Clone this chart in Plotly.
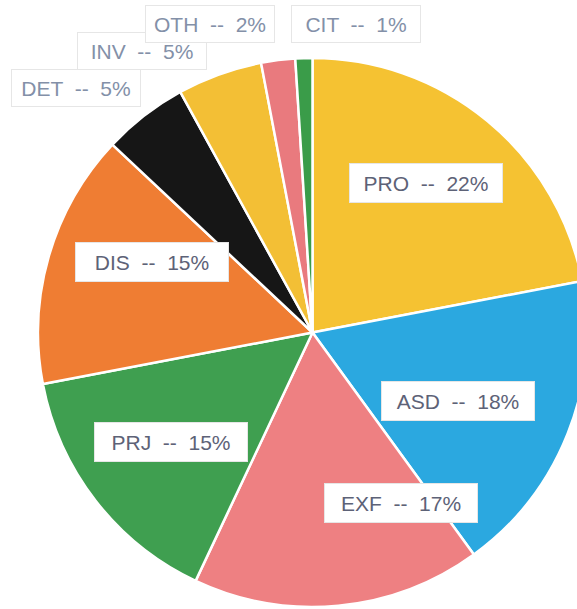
import plotly.graph_objects as go

# slice data, clockwise from 12 o'clock
labels = ["PRO", "ASD", "EXF", "PRJ", "DIS", "DET", "INV", "OTH", "CIT"]
shares = [22, 18, 17, 15, 15, 5, 5, 2, 1]
colors = ["#f5c232", "#2ba8e0", "#ee8082", "#3f9f50", "#ef7d33",
          "#161616", "#f3bf35", "#e97a7e", "#3a9c49"]

# label box centres in pixels (x from left, y from top)
label_pos = {
    "PRO": (426, 183), "ASD": (458, 401), "EXF": (401, 503),
    "PRJ": (171, 442), "DIS": (152, 262),
    "DET": (76, 88), "INV": (142, 51), "OTH": (210, 24), "CIT": (356, 24),
}
outside = {"DET", "INV", "OTH", "CIT"}

W, H = 600, 609
CX, CY, R = 312.5, 332.5, 274.5

fig = go.Figure(go.Pie(
    labels=labels, values=shares, sort=False, direction="clockwise", rotation=0,
    marker=dict(colors=colors, line=dict(color="white", width=2.5)),
    textinfo="none", hoverinfo="label+percent", showlegend=False,
    domain=dict(x=[(CX - R) / W, (CX + R) / W], y=[1 - (CY + R) / H, 1 - (CY - R) / H]),
))

for name, share in zip(labels, shares):
    px, py = label_pos[name]
    out = name in outside
    fig.add_annotation(
        x=px / W, y=1 - py / H, xref="paper", yref="paper", showarrow=False,
        xanchor="center", yanchor="middle",
        text=f"{name}  --  {share}%",
        font=dict(family="Arial, Liberation Sans", size=21,
                  color="#8390a8" if out else "#5d6277"),
        bgcolor="white", bordercolor="#e6e6e6", borderwidth=1, borderpad=3,
        width=122 if out else 146, height=30 if out else 32,
    )

fig.update_layout(width=W, height=H, margin=dict(l=0, r=0, t=0, b=0),
                  paper_bgcolor="white", plot_bgcolor="white")

fig.write_html("out.html", config={"displayModeBar": False},
               post_script="document.body.style.margin='0';document.body.style.overflow='hidden';")
